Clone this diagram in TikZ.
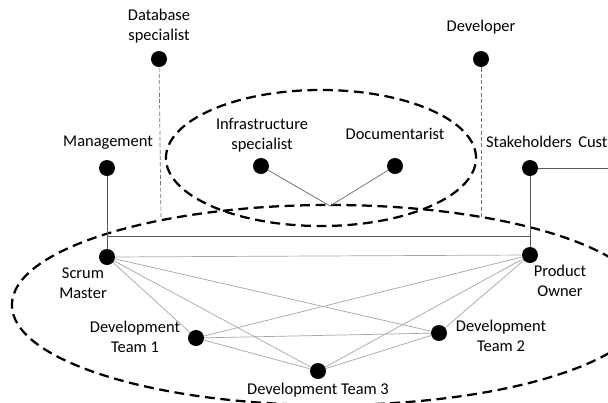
\documentclass[tikz,border=0pt]{standalone}
\usepackage{fontspec}
\setmainfont{Carlito}
\usetikzlibrary{positioning}

\begin{document}
\begin{tikzpicture}[
  x=0.025cm, y=-0.025cm,
  font=\fontsize{11.7}{14}\selectfont,
  member/.style={circle, fill=black, inner sep=0pt, minimum size=0.4cm},
  role/.style={align=center, inner sep=0pt},
  link/.style={draw=black!35, line width=0.5pt},
  tie/.style={draw=black!65, line width=0.6pt},
  side/.style={draw=black!55, dash pattern=on 3pt off 1.5pt, line width=0.5pt},
  group/.style={draw=black, line width=1.6pt, dash pattern=on 7pt off 4pt}
]
\clip (0,0) rectangle (608,403);

% groups
\draw[group] (321,158) ellipse [x radius=3.875cm, y radius=1.7cm];
\draw[group] (330,305) ellipse [x radius=7.95cm, y radius=2.5cm];

% people
\node[member] (dbs)    at (159,59)  {};
\node[member] (dev)    at (481,59)  {};
\node[member] (mgmt)   at (107,168) {};
\node[member] (infra)  at (261,166) {};
\node[member] (doc)    at (395,166) {};
\node[member] (stake)  at (530,168) {};
\node[member] (scrum)  at (107,257) {};
\node[member] (owner)  at (530,255) {};
\node[member] (team1)  at (196,338) {};
\node[member] (team2)  at (439,333) {};
\node[member] (team3)  at (318,371) {};

\coordinate (dbsend) at (161,218);
\coordinate (devend) at (481,218);
\coordinate (vjoin)  at (330,206);
\coordinate (bar)    at (0,236);
\coordinate (cust)   at (640,168);

% labels
\node[role] (dbslabel)    at (159,26)  {Database\\specialist};
\node[role] (devlabel)    at (481,27)  {Developer};
\node[role] (mgmtlabel)   at (108,143) {Management};
\node[role] (infralabel)  at (262,135) {Infrastructure\\specialist};
\node[role] (doclabel)    at (395,134) {Documentarist};
\node[role] (stakelabel)  at (529,142) {Stakeholders};
\node[role, anchor=west] (custlabel) at (578,142) {Cust};
\node[role] (scrumlabel)  at (83,283)  {Scrum\\Master};
\node[role] (ownerlabel)  at (560,281) {Product\\Owner};
\node[role] (team1label)  at (135,337) {Development\\Team 1};
\node[role] (team2label)  at (501,336) {Development\\Team 2};
\node[role] (team3label)  at (318,390) {Development Team 3};

% connections
\draw[side] (dbs) -- (dbsend);
\draw[side] (dev) -- (devend);
\draw[link, draw=black!60] (infra) -- (vjoin) -- (doc);
\draw[tie] (mgmt) -- (scrum);
\draw[tie] (stake) -- (owner);
\draw[tie] (scrum |- bar) -- (owner |- bar);
\draw[tie] (stake) -- (cust);

\foreach \a/\b in {scrum/owner, scrum/team1, scrum/team2, scrum/team3,
                   owner/team1, owner/team2, owner/team3,
                   team1/team2, team1/team3, team2/team3}
  \draw[link] (\a) -- (\b);
\end{tikzpicture}
\end{document}
